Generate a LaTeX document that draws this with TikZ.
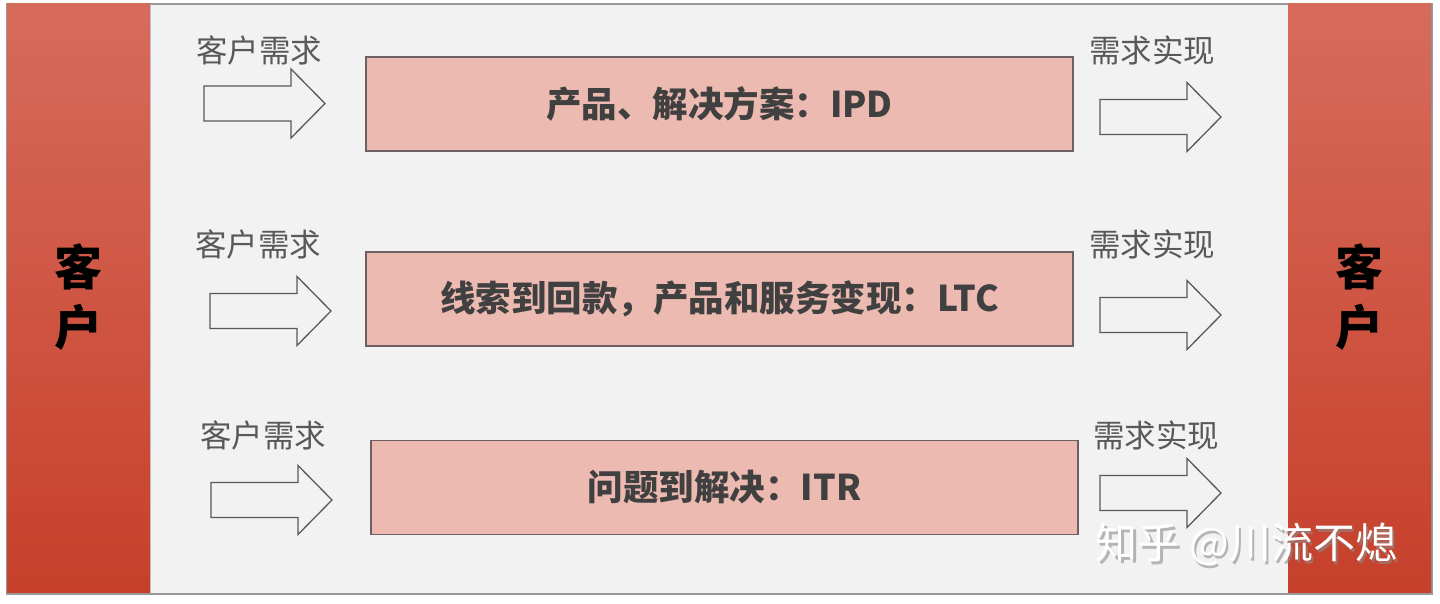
\documentclass[tikz,border=0pt]{standalone}
\usepackage{fontspec}
\newfontfamily\cjk{Noto Sans CJK SC}
\usetikzlibrary{shadows}
\definecolor{panelbg}{HTML}{F2F2F2}
\definecolor{panelline}{HTML}{9A9A9A}
\definecolor{bartop}{HTML}{D76B5B}
\definecolor{barbot}{HTML}{C6402B}
\definecolor{boxfill}{HTML}{EDBAB2}
\definecolor{boxline}{HTML}{6E5F62}
\definecolor{boxtext}{HTML}{404040}
\definecolor{labeltext}{HTML}{595959}
\definecolor{arrline}{HTML}{595959}
\tikzset{
  redbar/.style={top color=bartop,bottom color=barbot,draw=none,
    drop shadow={shadow xshift=1pt,shadow yshift=-1pt,opacity=0.35}},
  procbox/.style={rectangle,fill=boxfill,draw=boxline,line width=1.6pt,
    minimum width=707pt,minimum height=94pt,inner sep=0pt,
    font=\cjk\bfseries\fontsize{35.5}{42}\selectfont,text=boxtext},
  flowlabel/.style={font=\cjk\fontsize{31.5}{36}\selectfont,text=labeltext,inner sep=0pt},
  custlabel/.style={font=\cjk\bfseries\fontsize{48}{56}\selectfont,text=black,align=center,inner sep=0pt},
  blkarr/.pic={\draw[arrline,line width=1.3pt,fill=panelbg,line join=miter]
    (0,-17.5) -- (87,-17.5) -- (87,-34.5) -- (121,0) -- (87,34.5) -- (87,17.5) -- (0,17.5) -- cycle;}
}
\begin{document}
\begin{tikzpicture}[x=1pt,y=-1pt]
\useasboundingbox (0,0) rectangle (1440,604);
\fill[white] (0,0) rectangle (1440,604);
% panel
\draw[panelline,line width=1.2pt,fill=panelbg] (7,4) rectangle (1432,594);
% customer bars
\path[redbar] (7,4) rectangle (150,592);
\path[redbar] (1288,4) rectangle (1431,592);
\node[custlabel] (custL) at (78.5,297) {客\\[4pt]户};
\node[custlabel] (custR) at (1359.5,297) {客\\[4pt]户};
% process boxes
\node[procbox] (ipd) at (719.5,104) {产品、解决方案：IPD};
\node[procbox] (ltc) at (719.5,299) {线索到回款，产品和服务变现：LTC};
\node[procbox] (itr) at (724.5,487.5) {问题到解决：ITR};
% left arrows and labels
\node[flowlabel] (inL1) at (259,50) {客户需求};
\node[flowlabel] (inL2) at (258,244) {客户需求};
\node[flowlabel] (inL3) at (263,435) {客户需求};
\pic at (204,103.5) {blkarr};
\pic at (210,311) {blkarr};
\pic at (211,500) {blkarr};
% right arrows and labels
\node[flowlabel] (outR1) at (1152,50) {需求实现};
\node[flowlabel] (outR2) at (1152,244) {需求实现};
\node[flowlabel] (outR3) at (1156,435) {需求实现};
\pic at (1100,117) {blkarr};
\pic at (1100,315) {blkarr};
\pic at (1100,493) {blkarr};
% watermark
\node[font=\cjk\fontsize{42}{48}\selectfont,text=black!45,opacity=0.6,inner sep=0pt] (wmshadow) at (1249,547) {知乎 @川流不熄};
\node[font=\cjk\fontsize{42}{48}\selectfont,text=white,inner sep=0pt] (wm) at (1246.5,544.5) {知乎 @川流不熄};
\end{tikzpicture}
\end{document}
